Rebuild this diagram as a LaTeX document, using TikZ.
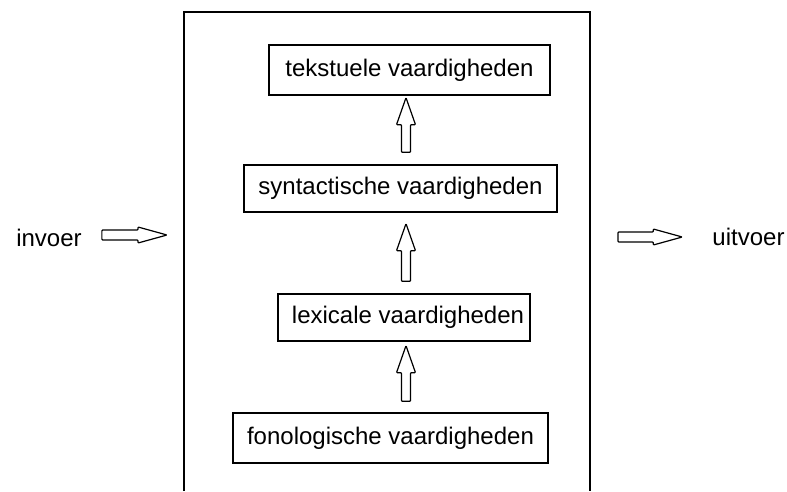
\documentclass[tikz,border=0pt]{standalone}
\usepackage{fontspec}
\setmainfont{Liberation Sans}
\usetikzlibrary{calc}
\newcommand\vblock[2]{\draw[blk] let \p1=(#1), \p2=(#2) in
  (\x1-4.5pt,\y1) -- (\x1-4.5pt,\y2-27pt) -- (\x1-9.5pt,\y2-27pt) -- (\x2,\y2)
  -- (\x1+9.5pt,\y2-27pt) -- (\x1+4.5pt,\y2-27pt) -- (\x1+4.5pt,\y1) -- cycle;}
\newcommand\hblock[2]{\draw[blk] let \p1=(#1), \p2=(#2) in
  (\x1,\y1+5pt) -- (\x2-29pt,\y1+5pt) -- (\x2-29pt,\y1+8pt) -- (\x2,\y1)
  -- (\x2-29pt,\y1-8pt) -- (\x2-29pt,\y1-5pt) -- (\x1,\y1-5pt) -- cycle;}
\begin{document}
\begin{tikzpicture}[x=1pt,y=-1pt,
  font=\fontsize{24}{28}\selectfont,
  box/.style={draw, line width=1.4pt, inner sep=0pt},
  blk/.style={draw, line width=1.2pt, rounded corners=0.8pt, line join=round},
  frame/.style={draw, line width=1.5pt}]
\useasboundingbox (0,0) rectangle (787,491);
% outer frame (open at the bottom)
\draw[frame] (184,491) -- (184,12) -- (590,12) -- (590,491);
% boxes
\node[box, minimum width=281pt, minimum height=50pt] (tek) at (409.5,70) {tekstuele vaardigheden\hspace{23pt}};
\node[box, minimum width=313pt, minimum height=47pt] (syn) at (400.5,188.5) {syntactische vaardigheden\hspace{9pt}};
\node[box, minimum width=252pt, minimum height=47pt] (lex) at (404,317.5) {\hspace{8pt}lexicale vaardigheden};
\node[box, minimum width=315pt, minimum height=50pt] (fon) at (390.5,438) {fonologische vaardigheden\hspace{10pt}};
% side labels
\node[inner sep=0pt] (in) at (49,238) {invoer};
\node[inner sep=0pt] (out) at (748.5,237) {uitvoer};
% arrow axis
\coordinate (axis) at (406,0);
\coordinate (a1tip) at ([yshift=-2pt]tek.south -| axis);
\coordinate (a1tail) at ([yshift=12pt]syn.north -| axis);
\coordinate (a2tip) at ([yshift=-11pt]syn.south -| axis);
\coordinate (a2tail) at ([yshift=12pt]lex.north -| axis);
\coordinate (a3tip) at ([yshift=-4pt]lex.south -| axis);
\coordinate (a3tail) at ([yshift=11pt]fon.north -| axis);
\vblock{a1tail}{a1tip}
\vblock{a2tail}{a2tip}
\vblock{a3tail}{a3tip}
% horizontal arrows
\coordinate (intail) at ([xshift=20pt]in.east |- 0,235);
\coordinate (intip) at (167,235);
\coordinate (outtail) at (618,237);
\coordinate (outtip) at ([xshift=-30pt]out.west |- 0,237);
\hblock{intail}{intip}
\hblock{outtail}{outtip}
\end{tikzpicture}
\end{document}
